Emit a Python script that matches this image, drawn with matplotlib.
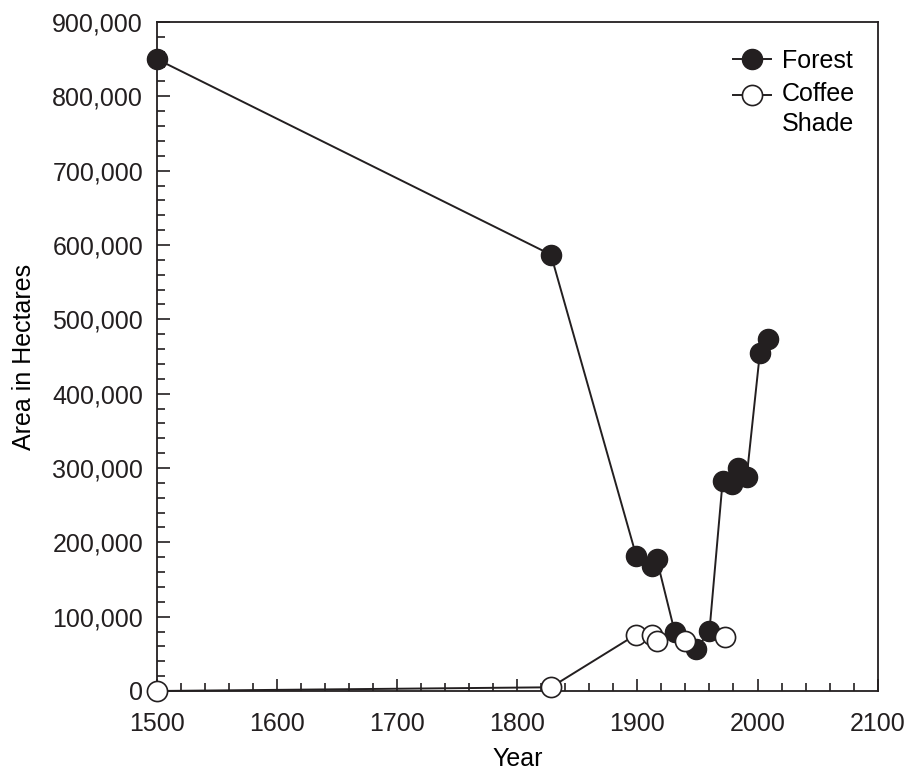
import matplotlib.pyplot as plt
from matplotlib.legend_handler import HandlerLine2D
from matplotlib.transforms import Affine2D
from matplotlib.ticker import MultipleLocator, FuncFormatter

plt.rcParams['font.family'] = ['Liberation Sans', 'DejaVu Sans']

forest_years = [1500, 1828, 1899, 1912, 1916, 1931, 1949, 1960, 1971, 1979, 1984, 1991, 2002, 2009]
forest_area = [850000, 587000, 182000, 168000, 178000, 80000, 56000, 81000, 283000, 278000, 300000, 288000, 455000, 473000]

coffee_years = [1500, 1828, 1899, 1912, 1916, 1940, 1973]
coffee_area = [0, 5000, 76000, 76000, 67000, 67000, 73000]
coffee_joined = 5  # only the first points are joined by a line


class RaisedHandler(HandlerLine2D):
    # put the legend marker next to the first line of a two-line label
    def create_artists(self, legend, orig_handle, xdescent, ydescent, width, height, fontsize, trans):
        trans = Affine2D().translate(0, 0.6 * fontsize) + trans
        return super().create_artists(legend, orig_handle, xdescent, ydescent,
                                      width, height, fontsize, trans)


fig = plt.figure(figsize=(9.18, 7.7), dpi=100)
ax = fig.add_axes([0.171, 0.1026, 0.785, 0.8688])

ms = 14.5
fs = 18
ax.plot(forest_years, forest_area, color='#231f20', lw=1.4, marker='o', ms=ms,
        mfc='#231f20', mec='#231f20', label='Forest', zorder=3)
ax.plot(coffee_years[:coffee_joined], coffee_area[:coffee_joined], color='#231f20', lw=1.4, zorder=2)
ax.plot(coffee_years, coffee_area, ls='none', marker='o', ms=ms, mfc='white',
        mec='#231f20', mew=1.2, zorder=4)
# legend proxy for coffee shade
coffee_proxy, = ax.plot([], [], color='#231f20', lw=1.4, marker='o', ms=ms, mfc='white',
                        mec='#231f20', mew=1.2, label='Coffee\nShade')

ax.set_xlim(1500, 2100)
ax.set_ylim(0, 900000)
ax.xaxis.set_major_locator(MultipleLocator(100))
ax.xaxis.set_minor_locator(MultipleLocator(20))
ax.yaxis.set_major_locator(MultipleLocator(100000))
ax.yaxis.set_minor_locator(MultipleLocator(20000))
ax.yaxis.set_major_formatter(FuncFormatter(lambda v, p: f'{int(v):,}'))
ax.tick_params(which='both', direction='in', top=False, right=False, width=1.2,
               labelsize=fs, colors='#231f20')
ax.tick_params(which='major', length=9)
ax.tick_params(which='minor', length=6)
ax.tick_params(axis='x', which='major', pad=15)
ax.tick_params(axis='y', which='major', pad=10)
for s in ax.spines.values():
    s.set_linewidth(1.3)
    s.set_color('#231f20')
for ln in ax.lines:
    ln.set_clip_on(False)

ax.set_xlabel('Year', fontsize=fs, labelpad=8)
ax.set_ylabel('Area in Hectares', fontsize=fs, labelpad=12)

leg = ax.legend(loc='upper right', bbox_to_anchor=(1.0, 0.994), frameon=False, fontsize=fs,
                handlelength=1.5, handletextpad=0.45, borderaxespad=0.4, borderpad=0.5,
                labelspacing=0.36, handler_map={coffee_proxy: RaisedHandler()})
for t in leg.get_texts():
    t.set_multialignment('left')
    t.set_linespacing(1.35)

fig.savefig('out.png', dpi=100)
